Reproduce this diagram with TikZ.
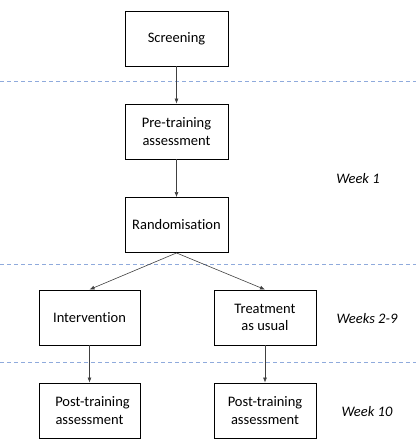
\documentclass[tikz,border=0pt]{standalone}
\usepackage{fontspec}
\setmainfont{Carlito}[Ligatures={NoCommon}]
\usepackage{tikz}
\usetikzlibrary{positioning, arrows.meta, calc}
\definecolor{phaseline}{HTML}{8FAADC}
\tikzset{
    stagebox/.style={draw=black, line width=0.9pt, minimum width=103pt, minimum height=55pt,
        align=center, inner sep=2pt, font=\fontsize{14.5}{17.5}\selectfont},
    weeklabel/.style={font=\fontsize{14.5}{17.5}\selectfont\itshape},
    flow/.style={draw=black!75, line width=0.6pt, -{Latex[length=5pt, width=4pt]}},
    phase/.style={draw=phaseline, line width=0.7pt, dash pattern=on 4pt off 3pt}
}
\begin{document}
\begin{tikzpicture}[x=1pt, y=1pt]
            \useasboundingbox (0,0) rectangle (416,440);

            % phase separators
            \foreach \y in {359, 176, 78}
            {
                \draw[phase] (0, \y) -- (416, \y);
            }

            % boxes
            \node[stagebox] (screening) at (176.5, 401.5) {Screening};
            \node[stagebox] (pretrain) at (176.5, 308.5) {Pre-training\\assessment};
            \node[stagebox] (random) at (176.5, 215) {Randomisation};
            \node[stagebox, minimum width=101pt] (interv) at (89.5, 122.5) {Intervention};
            \node[stagebox, minimum width=102pt] (usual) at (265, 122.5) {Treatment\\as usual};
            \node[stagebox, minimum width=101pt] (postA) at (89.5, 29.5) {\hspace*{6pt}Post-training\\assessment};
            \node[stagebox, minimum width=102pt] (postB) at (265, 29.5) {Post-training\\assessment};

            % week labels
            \node[weeklabel] (week1) at (358, 261) {Week 1};
            \node[weeklabel] (week29) at (367, 121) {Weeks 2-9};
            \node[weeklabel] (week10) at (367, 28) {Week 10};

            % arrows
            \draw[flow] (screening) -- (pretrain);
            \draw[flow] (pretrain) -- (random);
            \draw[flow] (random.south) -- (interv.north);
            \draw[flow] (random.south) -- (usual.north);
            \draw[flow] (interv) -- (postA);
            \draw[flow] (usual) -- (postB);
        \end{tikzpicture}
\end{document}
